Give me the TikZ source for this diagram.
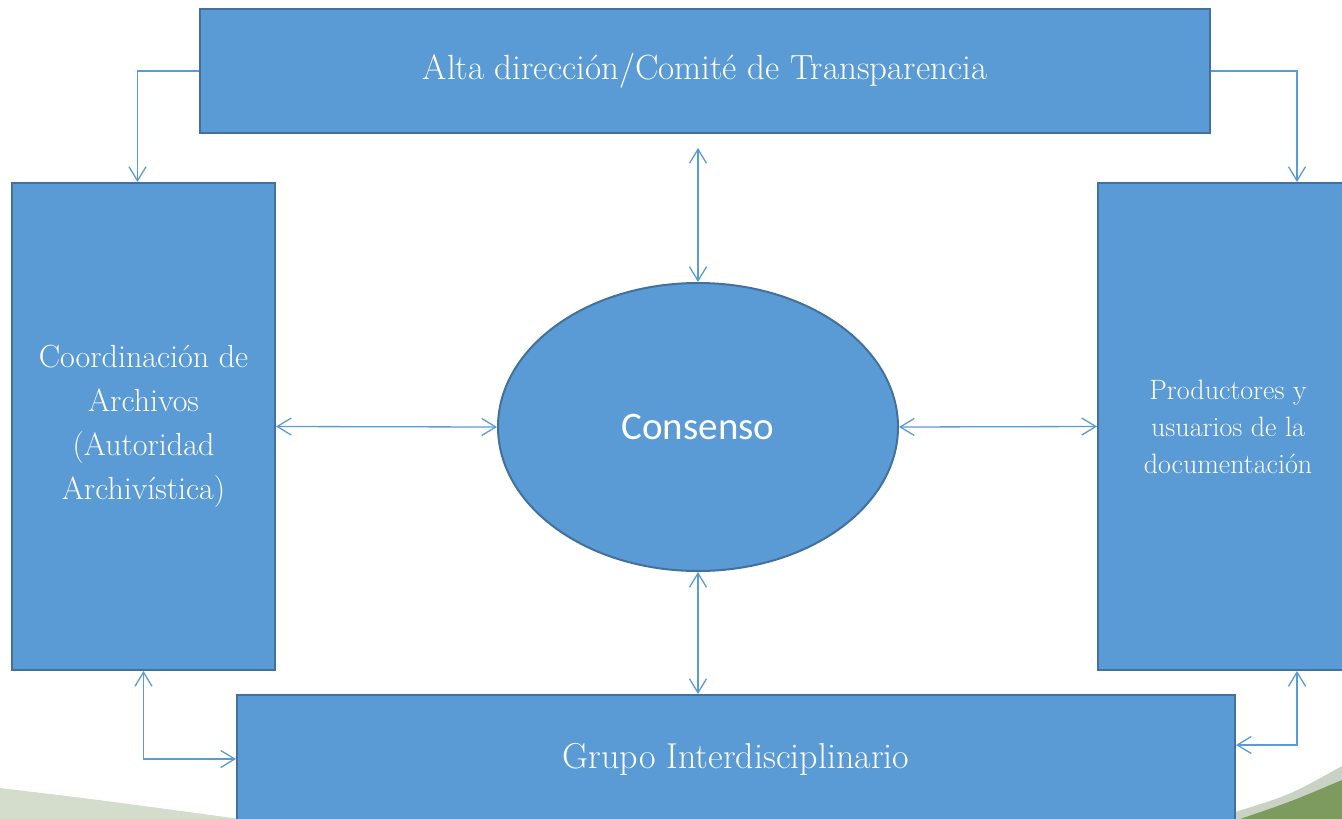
\documentclass[tikz,border=0pt]{standalone}
\usepackage{fontspec}
\newfontfamily\calibri{Carlito}
\usetikzlibrary{arrows.meta,shapes.geometric,positioning}
\definecolor{boxfill}{HTML}{5B9BD5}
\definecolor{boxline}{HTML}{41719C}
\definecolor{linkblue}{HTML}{5B9BD5}
\definecolor{swoosh}{HTML}{D4DCCB}
\definecolor{swooshgrey}{HTML}{C9D2C4}
\definecolor{swooshgreen}{HTML}{7D9B5E}

\begin{document}
\begin{tikzpicture}[x=1pt, y=-1pt,
  block/.style={rectangle, draw=boxline, line width=2pt, fill=boxfill,
                text=white, align=center, inner sep=0pt},
  hub/.style={ellipse, draw=boxline, line width=2pt, fill=boxfill,
              text=white, inner sep=0pt, minimum width=400pt, minimum height=288pt},
  link/.style={draw=linkblue, line width=1.3pt},
  >={Straight Barb[length=14pt,width=17pt]}
]
  \useasboundingbox (0,0) rectangle (1342,819);
  \clip (0,0) rectangle (1342,819);

  % background swoosh
  \fill[swoosh] (0,788) .. controls (100,800) .. (240,819) -- (0,819) -- cycle;
  \fill[swooshgrey] (1235,812) .. controls (1290,795) .. (1342,766) -- (1342,819) -- (1235,819) -- cycle;
  \fill[swooshgreen] (1240,819) .. controls (1290,802) .. (1342,780) -- (1342,819) -- cycle;

  \node[block, minimum width=1010pt, minimum height=124pt,
        font=\fontsize{35}{42}\selectfont] (dir) at (705,71)
        {Alta dirección/Comité de Transparencia};
  \node[block, minimum width=263pt, minimum height=487pt,
        font=\fontsize{32}{44}\selectfont] (coord) at (143.5,426.5)
        {Coordinación de\\Archivos\\(Autoridad\\Archivística)};
  \node[block, minimum width=260pt, minimum height=487pt,
        font=\fontsize{28}{37}\selectfont] (prod) at (1228,426.5)
        {Productores y\\usuarios de la\\documentación};
  \node[hub, font=\calibri\fontsize{39}{44}\selectfont] (cons) at (698,427) {Consenso};
  \node[block, minimum width=998pt, minimum height=128pt,
        font=\fontsize{36}{42}\selectfont] (grupo) at (736,759)
        {Grupo Interdisciplinario};

  \draw[link,->] (dir.west) -| ([xshift=-6pt]coord.north);
  \draw[link,->] (dir.east) -| ([xshift=69pt]prod.north);
  \draw[link,<->] ([yshift=-14pt]dir.south -| cons.north) -- (cons.north);
  \draw[link,<->] (coord.east) -- (cons.west);
  \draw[link,<->] (cons.east) -- (prod.west);
  \draw[link,<->] (cons.south) -- (cons.south |- grupo.north);
  \draw[link,<->] (coord.south) |- (grupo.west);
  \draw[link,<->] ([yshift=14pt]grupo.east) -| ([xshift=69pt]prod.south);
\end{tikzpicture}
\end{document}
